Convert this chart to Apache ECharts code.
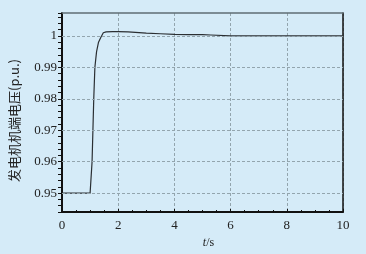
<!DOCTYPE html>
<html><head><meta charset="utf-8">
<script src="https://cdn.jsdelivr.net/npm/echarts@6/dist/echarts.min.js"></script>
<style>html,body{margin:0;padding:0;background:#d5ebf8;}#c{width:366px;height:254px;}</style>
</head><body><div id="c"></div>
<script>
var times = [0, 0.5, 1.0, 1.04, 1.07, 1.1, 1.13, 1.17, 1.23, 1.3, 1.38, 1.47, 1.57, 1.8, 2.0, 2.35, 2.4, 3.0, 3.5, 4.0, 4.5, 5.0, 5.3, 5.35, 6, 7, 8, 9, 10];
var voltage = [0.95, 0.95, 0.95, 0.9505, 0.96, 0.97, 0.98, 0.99, 0.995, 0.998, 0.9995, 1.001, 1.0013, 1.0014, 1.0014, 1.0013, 1.0011, 1.0009, 1.0007, 1.0005, 1.0004, 1.0004, 1.0003, 1.0, 1.0, 1.0, 1.0, 1.0, 1.0];
var xTicks = [0, 2, 4, 6, 8, 10];
var yGridValues = [0.95, 0.96, 0.97, 0.98, 0.99, 1.0];
var yName = '发电机机端电压(p.u.)';
var xNameItalic = 't';
var xNameRest = '/s';

var pts = times.map(function (t, i) { return [t, voltage[i]]; });
var chart = echarts.init(document.getElementById('c'), null, {renderer: 'canvas'});
var labelFont = {fontFamily: 'Liberation Serif', fontSize: 13, color: '#222'};
chart.setOption({
  backgroundColor: '#d5ebf8',
  animation: false,
  grid: {left: 56, right: 23, top: 13, bottom: 42, show: false},
  xAxis: [{
    type: 'value', min: xTicks[0], max: xTicks[xTicks.length - 1], interval: 2,
    name: '{i|' + xNameItalic + '}' + xNameRest, nameLocation: 'middle', nameGap: 22,
    nameTextStyle: {fontFamily: 'Liberation Serif', fontSize: 12, color: '#222', padding: [0, 0, 0, 12],
      rich: {i: {fontStyle: 'italic', fontFamily: 'Liberation Serif', fontSize: 12, color: '#222'}}},
    axisLine: {show: true, lineStyle: {color: '#111', width: 2}},
    axisTick: {show: true, inside: true, length: 3, lineStyle: {color: '#111'}},
    minorTick: {show: true, splitNumber: 4, length: 2, lineStyle: {color: '#111'}},
    axisLabel: Object.assign({margin: 7}, labelFont),
    splitLine: {show: true, lineStyle: {color: '#93a5ae', type: [3, 2], width: 1}}
  }, {
    type: 'value', position: 'top', min: 0, max: 10,
    axisLine: {show: true, onZero: false, lineStyle: {color: '#5f6d74', width: 1.5}},
    axisTick: {show: false}, axisLabel: {show: false}, splitLine: {show: false}
  }],
  yAxis: [{
    type: 'value', min: 0.944, max: 1.0073, interval: 0.002,
    name: yName, nameLocation: 'middle', nameGap: 41, nameRotate: 90,
    nameTextStyle: {fontFamily: 'Noto Sans CJK SC', fontSize: 13, color: '#222', padding: [0, 16, 0, 0]},
    axisLine: {show: true, lineStyle: {color: '#111', width: 2}},
    axisTick: {show: true, inside: false, length: 4, lineStyle: {color: '#111'}},
    axisLabel: Object.assign({margin: 5, formatter: function (v) {
      var r = Math.round(v * 100) / 100;
      if (Math.abs(v - r) > 1e-6) return '';
      return r === 1 ? '1' : r.toFixed(2);
    }}, labelFont),
    splitLine: {show: false}
  }, {
    type: 'value', position: 'right', min: 0.944, max: 1.0073,
    axisLine: {show: true, onZero: false, lineStyle: {color: '#111', width: 1.5}},
    axisTick: {show: false}, axisLabel: {show: false}, splitLine: {show: false}
  }],
  series: [{
    type: 'line', data: pts, showSymbol: false, symbol: 'none',
    lineStyle: {color: '#2b2f33', width: 1.2},
    markLine: {
      silent: true, symbol: 'none', label: {show: false},
      lineStyle: {color: '#93a5ae', type: [3, 2], width: 1},
      data: yGridValues.map(function (v) { return {yAxis: v}; })
    },
    z: 3
  }]
});
</script>
</body></html>
